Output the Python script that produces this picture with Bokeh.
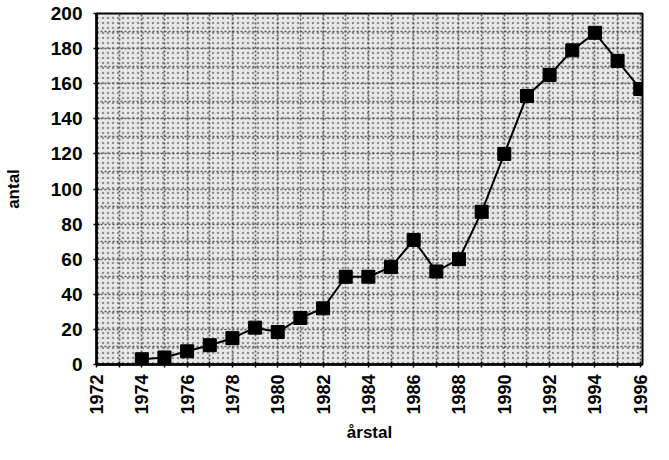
from bokeh.plotting import figure
from bokeh.models import Range1d, FixedTicker, BoxAnnotation
from bokeh.embed import file_html
from bokeh.resources import INLINE
import math

# ---- data ----
years = [1974, 1975, 1976, 1977, 1978, 1979, 1980, 1981, 1982, 1983, 1984, 1985,
         1986, 1987, 1988, 1989, 1990, 1991, 1992, 1993, 1994, 1995, 1996]
antal = [3, 4, 7.5, 11, 15, 21, 18.5, 26.5, 32, 50, 50, 55.5,
         71, 53, 60, 87, 120, 153, 165, 179, 189, 173, 157]

x_tick_years = [1972, 1974, 1976, 1978, 1980, 1982, 1984, 1986, 1988, 1990, 1992, 1994, 1996]
x_minor_years = [1973, 1975, 1977, 1979, 1981, 1983, 1985, 1987, 1989, 1991, 1993, 1995]
y_ticks = [0, 20, 40, 60, 80, 100, 120, 140, 160, 180, 200]
y_minor = [10, 30, 50, 70, 90, 110, 130, 150, 170, 190]

x_title = "årstal"
y_title = "antal"

FONT = "Liberation Sans"

p = figure(width=653, height=444, output_backend="svg", toolbar_location=None,
           x_range=Range1d(1972, 1996.1), y_range=Range1d(0, 200),
           min_border_left=96, min_border_right=11, min_border_top=13, min_border_bottom=70)

p.background_fill_color = "#e8e8e8"
p.border_fill_color = "white"
p.outline_line_color = "black"
p.outline_line_width = 2

# dithered look: speckle hatch over the whole plot area
p.add_layout(BoxAnnotation(fill_alpha=0, line_alpha=0, hatch_pattern="dot",
                           hatch_color="#555555", hatch_scale=5, hatch_weight=1,
                           hatch_alpha=0.6, level="underlay"))

# grids (dotted, at every year / every 10 units)
p.xgrid.ticker = FixedTicker(ticks=x_tick_years + x_minor_years)
p.ygrid.ticker = FixedTicker(ticks=y_ticks + y_minor)
for g in (p.xgrid, p.ygrid):
    g.grid_line_color = "#4a4a4a"
    g.grid_line_dash = "2 2"
    g.grid_line_width = 1.6
    g.grid_line_alpha = 0.9

# axes
p.xaxis.ticker = FixedTicker(ticks=x_tick_years, minor_ticks=x_minor_years)
p.yaxis.ticker = FixedTicker(ticks=y_ticks)
p.xaxis.major_label_orientation = math.pi / 2

for ax in (p.xaxis, p.yaxis):
    ax.axis_line_color = "black"
    ax.axis_line_width = 2.5
    ax.major_tick_line_color = "black"
    ax.major_tick_line_width = 1.5
    ax.major_tick_in = 3
    ax.major_tick_out = 3
    ax.minor_tick_line_color = "black"
    ax.minor_tick_line_width = 1.5
    ax.minor_tick_in = 3
    ax.minor_tick_out = 3
    ax.major_label_text_font = FONT
    ax.major_label_text_font_style = "bold"
    ax.major_label_text_color = "black"
    ax.axis_label_text_font = FONT
    ax.axis_label_text_font_style = "bold"
    ax.axis_label_text_font_size = "17px"
    ax.axis_label_text_color = "black"

p.xaxis.major_label_text_font_size = "18px"
p.yaxis.major_label_text_font_size = "19px"
p.yaxis.minor_tick_line_color = None
p.xaxis.axis_label = x_title
p.yaxis.axis_label = y_title
p.xaxis.major_label_standoff = 7
p.xaxis.axis_label_standoff = 5
p.yaxis.major_label_standoff = 11
p.yaxis.axis_label_standoff = 25

# series
p.line(years, antal, line_color="black", line_width=2)
p.scatter(years, antal, marker="square", size=13, fill_color="black", line_color="black")

open("out.html", "w").write(file_html(p, INLINE))
